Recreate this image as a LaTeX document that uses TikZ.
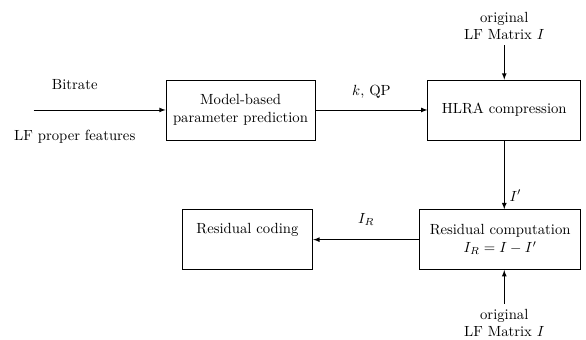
\documentclass[tikz,border=0pt]{standalone}
\usetikzlibrary{positioning}
\newcommand\boxh{40.8pt}
\newcommand\gapx{76.2pt}
\newcommand\gapy{46.9pt}
\newcommand\gapin{89.8pt}
\newcommand\gaporg{23.5pt}
\tikzset{
  block/.style={draw, line width=0.5pt, minimum height=\boxh, align=center, inner sep=2pt},
  arr/.style={-latex, line width=0.5pt},
  lbl/.style={align=center}
}

\begin{document}
\begin{tikzpicture}
  \useasboundingbox (0,0) rectangle (398.6pt,-230.6pt);
  % processing blocks
  \node [block, minimum width=101.4pt] (model) at (163.6pt,-74.8pt) {Model-based\\parameter prediction};
  \node [block, minimum width=104pt, right=\gapx of model] (hlra) {HLRA compression};
  \node [block, minimum width=109.6pt, below=\gapy of hlra.south east, anchor=north east] (rescomp) {Residual computation\\$I_R = I - I'$};
  \node [block, minimum width=89pt, left=72.1pt of rescomp] (rescod) {Residual coding\\\strut};
  % inputs
  \coordinate [left=\gapin of model.west] (in);
  \node [above=10pt of in, xshift=28pt] (rate) {Bitrate};
  \node [below=10pt of in, xshift=28pt] (feat) {LF proper features};
  \node [lbl, above=\gaporg of hlra] (orig1) {original\\LF Matrix $I$};
  \coordinate (rc) at (hlra.south |- rescomp.south);
  \coordinate (rn) at (hlra.south |- rescomp.north);
  \node [lbl, below=23.1pt of rc, anchor=north] (orig2) {original\\LF Matrix $I$};

  \draw [arr] (in) -- (model);
  \draw [arr] (model) -- node [above=4pt] {$k$, QP} (hlra);
  \draw [arr] (orig1) -- (hlra);
  \draw [arr] (hlra) -- node [right, pos=0.8] {$I'$} (rn);
  \draw [arr] (rescomp) -- node [above=6pt] {$I_R$} (rescod);
  \draw [arr] (orig2) -- (rc);
\end{tikzpicture}
\end{document}
